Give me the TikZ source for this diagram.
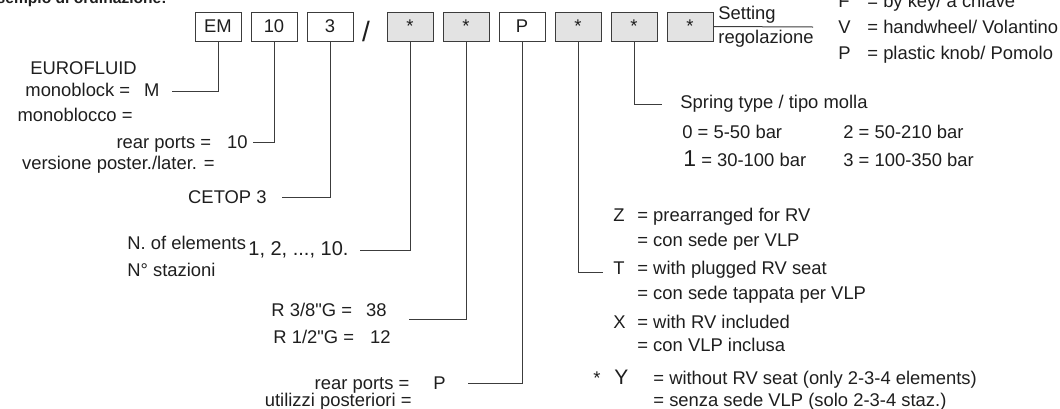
\documentclass[tikz,border=0pt]{standalone}
\usepackage{fontspec}
\setmainfont{Liberation Sans}
\newfontfamily\plainsans{Liberation Sans}
\usetikzlibrary{positioning}
\definecolor{inkgrey}{HTML}{1E1E1E}
\definecolor{linegrey}{HTML}{3C3C3C}
\definecolor{boxfill}{HTML}{E3E3E3}

\begin{document}
\begin{tikzpicture}[
    x=0.5pt, y=-0.5pt,
    every node/.style={text=inkgrey, font=\fontsize{9.2}{11}\selectfont, inner sep=0pt},
    codebox/.style={draw=linegrey, line width=0.5pt, minimum width=23pt, minimum height=14.5pt},
    greybox/.style={codebox, fill=boxfill},
    lbl/.style={anchor=base west},
    rlbl/.style={anchor=base east},
    lead/.style={draw=linegrey, line width=0.5pt}
]
    \useasboundingbox (0,0) rectangle (1060,408);

    % title, cut by the top edge
    \node[rlbl, font=\bfseries\fontsize{7.8}{10}\selectfont] (title) at (167,3) {Esempio di ordinazione:};

    % code boxes
    \node[codebox] (bEM) at (218,26.5) {EM};
    \node[codebox, right=4.5pt of bEM] (b10) {10};
    \node[codebox, right=4.5pt of b10] (b3) {3};
    \node[font=\fontsize{14}{14}\selectfont] (slash) at (366,31) {/};
    \node[greybox, right=16.5pt of b3] (bN) {*};
    \node[greybox, right=4.5pt of bN] (bR) {*};
    \node[codebox, right=4.5pt of bR] (bP) {P};
    \node[greybox, right=4.5pt of bP] (bV) {*};
    \node[greybox, right=4.5pt of bV] (bS) {*};
    \node[greybox, right=4.5pt of bS] (bA) {*};

    % lead ends
    \coordinate (cEM) at (172,91);
    \coordinate (c10) at (253,142);
    \coordinate (c3) at (282,197);
    \coordinate (cN) at (360,250);
    \coordinate (cR) at (409,319);
    \coordinate (cP) at (468,383);
    \coordinate (cV) at (603,272);
    \coordinate (cS) at (662,104);
    \coordinate (cA) at (813,27);

    \draw[lead] (bEM.south) |- (cEM);
    \draw[lead] (b10.south) |- (c10);
    \draw[lead] (b3.south) |- (c3);
    \draw[lead] (bN.south) |- (cN);
    \draw[lead] (bR.south) |- (cR);
    \draw[lead] (bP.south) |- (cP);
    \draw[lead] (bV.south) |- (cV);
    \draw[lead] (bS.south) |- (cS);
    \draw[lead] (bA.east) -- (cA);

    % left side
    \node[lbl] (tEuro) at (30,74) {EUROFLUID};
    \node[rlbl] (tMono) at (160,96) {monoblock =\hspace{7pt}M};
    \node[rlbl] (tMonoIt) at (133,121) {monoblocco =};
    \node[rlbl] (tRear) at (248,148) {rear ports =\hspace{8pt}10};
    \node[rlbl] (tVers) at (215,169) {versione poster./later. =};
    \node[rlbl] (tCetop) at (267,203) {CETOP 3};
    \node[lbl] (tElem) at (127,249) {N. of elements};
    \node[lbl, font=\fontsize{10}{12}\selectfont] (tElemN) at (248,255) {1, 2, ..., 10.};
    \node[lbl] (tStaz) at (127,276) {N° stazioni};
    \node[rlbl] (tR38) at (387,316) {R 3/8{\plainsans"}G =\hspace{7pt}38};
    \node[rlbl] (tR12) at (391,343) {R 1/2{\plainsans"}G =\hspace{8pt}12};
    \node[rlbl] (tRearP) at (446,389) {rear ports =\hspace{12pt}P};
    \node[rlbl] (tUtil) at (412,406) {utilizzi posteriori =};

    % setting
    \node[lbl] (tSet) at (718,19) {Setting};
    \node[lbl] (tReg) at (718,43) {regolazione};
    \node[lbl] (kF) at (838,7) {F};
    \node[lbl] (dF) at (867,7) {= by key/ a chiave};
    \node[lbl] (kV) at (838,33) {V};
    \node[lbl] (dV) at (867,33) {= handwheel/ Volantino};
    \node[lbl] (kP) at (838,59) {P};
    \node[lbl] (dP) at (867,59) {= plastic knob/ Pomolo};

    % spring
    \node[lbl] (tSpring) at (680,108) {Spring type / tipo molla};
    \node[lbl] (s0) at (682,138) {0 = 5-50 bar};
    \node[lbl] (s2) at (843,138) {2 = 50-210 bar};
    \node[lbl] (s1) at (683,166) {{\fontsize{11.5}{12}\selectfont 1} = 30-100 bar};
    \node[lbl] (s3) at (843,166) {3 = 100-350 bar};

    % relief valve
    \node[lbl] (kZ) at (613,221) {Z};
    \node[lbl] (dZ1) at (637,221) {= prearranged for RV};
    \node[lbl] (dZ2) at (637,246) {= con sede per VLP};
    \node[lbl] (kT) at (613,274) {T};
    \node[lbl] (dT1) at (637,274) {= with plugged RV seat};
    \node[lbl] (dT2) at (637,299) {= con sede tappata per VLP};
    \node[lbl] (kX) at (613,328) {X};
    \node[lbl] (dX1) at (637,328) {= with RV included};
    \node[lbl] (dX2) at (637,351) {= con VLP inclusa};
    \node[lbl] (star) at (593,384) {*};
    \node[lbl, font=\fontsize{10.5}{12}\selectfont] (kY) at (614,384) {Y};
    \node[lbl] (dY1) at (653,384) {= without RV seat (only 2-3-4 elements)};
    \node[lbl] (dY2) at (653,406) {= senza sede VLP (solo 2-3-4 staz.)};
\end{tikzpicture}
\end{document}
